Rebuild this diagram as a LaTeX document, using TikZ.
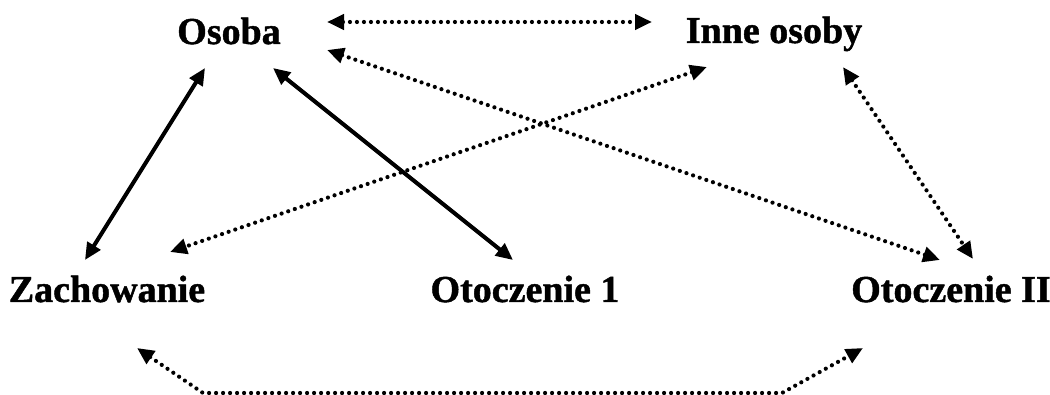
\documentclass[tikz,border=0pt]{standalone}
\usepackage{fontspec}
\setmainfont{Liberation Serif}
\newfontfamily\heavyserif{Liberation Serif Bold}[FakeBold=1.2]
\usetikzlibrary{arrows.meta}
\begin{document}
\begin{tikzpicture}[x=1pt,y=-1pt,
  >={Triangle[length=17pt,width=15pt]},
  lbl/.style={anchor=base,inner sep=0pt,font=\fontsize{38}{40}\heavyserif},
  solidarr/.style={line width=4pt,<->},
  dotarr/.style={line width=4.2pt,line cap=round,dash pattern=on 0pt off 7pt,<->}]
\useasboundingbox (0,0) rectangle (1050,395);
\node[lbl] (osoba) at (229,44) {Osoba};
\node[lbl] (inne) at (774,43) {Inne osoby};
\node[lbl] (zach) at (107,302) {Zachowanie};
\node[lbl] (ot1) at (525,302) {Otoczenie 1};
\node[lbl] (ot2) at (951,302) {Otoczenie II};
% solid
\draw[solidarr] ([shift={(-24,24)}]osoba.base) -- ([shift={(-22,-42)}]zach.base);
\draw[solidarr] ([shift={(44,24)}]osoba.base) -- ([shift={(-12,-42)}]ot1.base);
% dotted
\draw[dotarr] ([shift={(98,-22)}]osoba.base) -- ([shift={(-122,-21)}]inne.base);
\draw[dotarr] ([shift={(98,6)}]osoba.base) -- ([shift={(-11,-42)}]ot2.base);
\draw[dotarr] ([shift={(-67,24)}]inne.base) -- ([shift={(63,-50)}]zach.base);
\draw[dotarr] ([shift={(69,24)}]inne.base) -- ([shift={(22,-43)}]ot2.base);
\draw[dotarr] ([shift={(30,46)}]zach.base) -- ([shift={(96,91)}]zach.base) -- ([shift={(-169,91)}]ot2.base) -- ([shift={(-88,46)}]ot2.base);
\end{tikzpicture}
\end{document}
